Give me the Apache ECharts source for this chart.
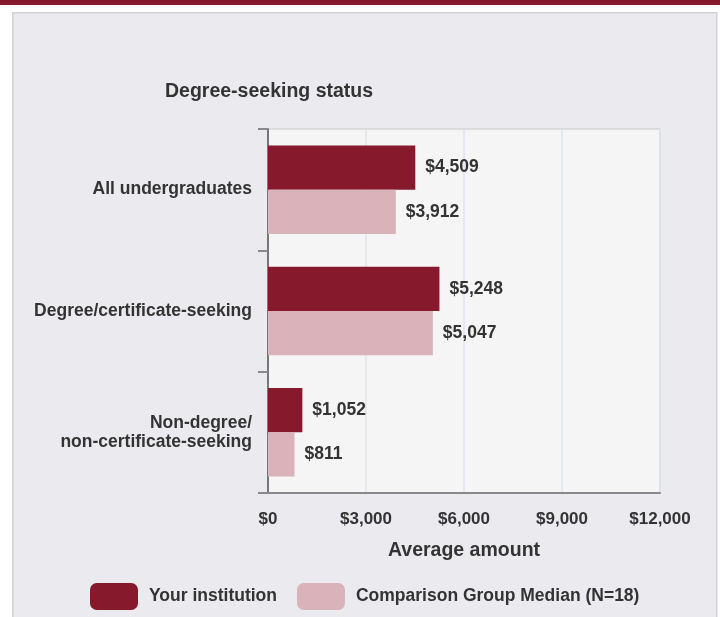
<!DOCTYPE html>
<html>
<head>
<meta charset="utf-8">
<script src="https://cdn.jsdelivr.net/npm/echarts@6/dist/echarts.min.js"></script>
<style>
  html, body { margin: 0; padding: 0; background: #fff; }
  #chart { width: 720px; height: 617px; }
</style>
</head>
<body>
<div id="chart"></div>
<script>
  // data
  const categories = ['All undergraduates', 'Degree/certificate-seeking', 'Non-degree/\nnon-certificate-seeking']
  const yourValues = [4509, 5248, 1052]
  const compValues = [3912, 5047, 811]
  const seriesNames = ['Your institution', 'Comparison Group Median (N=18)']
  const xTicks = [0, 3000, 6000, 9000, 12000]

  const font = '"Liberation Sans", Arial, Helvetica, sans-serif'
  const dark = '#861a2c'
  const light = '#d9b3b9'

  function money(v) {
    return '$' + Number(v).toLocaleString('en-US')
  }

  const myChart = echarts.init(document.getElementById('chart'))
  const option = {
    animation: false,
    textStyle: { fontFamily: font },
    graphic: [
      // top colour strip
      { type: 'rect', left: 0, top: 0, shape: { width: 720, height: 5 }, style: { fill: dark }, z: -10 },
      // grey panel
      { type: 'rect', left: 12, top: 12, shape: { width: 704, height: 620 },
        style: { fill: '#ebebef', stroke: '#d2d2d6', lineWidth: 1.5 }, z: -10 }
    ],
    title: {
      text: 'Degree-seeking status',
      left: 160,
      top: 77,
      textStyle: { fontSize: 19.5, fontWeight: 'bold', color: '#333', fontFamily: font }
    },
    legend: {
      left: 85,
      top: 578,
      itemWidth: 48,
      itemHeight: 27,
      itemGap: 20,
      icon: 'roundRect',
      data: seriesNames,
      textStyle: { fontSize: 17.5, fontWeight: 'bold', color: '#333', fontFamily: font, padding: [0, 0, 0, 6] }
    },
    grid: {
      left: 268,
      right: 60,
      top: 129,
      bottom: 124,
      show: true,
      backgroundColor: '#f5f5f5',
      borderColor: '#c8c8c8',
      borderWidth: 1
    },
    xAxis: {
      type: 'value',
      min: xTicks[0],
      max: xTicks[xTicks.length - 1],
      interval: 3000,
      name: 'Average amount',
      nameLocation: 'middle',
      nameGap: 48,
      nameTextStyle: { fontSize: 19.5, fontWeight: 'bold', color: '#333', fontFamily: font },
      axisLine: { show: true, lineStyle: { color: '#8a8a8a', width: 2 } },
      axisTick: { show: false },
      axisLabel: {
        margin: 18,
        fontSize: 17,
        fontWeight: 'bold',
        color: '#333',
        fontFamily: font,
        formatter: money
      },
      splitLine: { show: true, lineStyle: { color: '#dde3ef', width: 1.5 } }
    },
    yAxis: {
      type: 'category',
      inverse: true,
      data: categories,
      axisLine: { show: true, lineStyle: { color: '#777', width: 2 } },
      axisTick: { show: true, length: 10, lineStyle: { color: '#8a8a8a', width: 2 } },
      axisLabel: {
        margin: 16,
        fontSize: 17.5,
        fontWeight: 'bold',
        color: '#333',
        lineHeight: 19,
        fontFamily: font
      }
    },
    series: [
      {
        name: seriesNames[0],
        type: 'bar',
        data: yourValues,
        barGap: '0%',
        barCategoryGap: '27%',
        itemStyle: { color: dark },
        label: {
          show: true,
          position: 'right',
          distance: 10,
          fontSize: 17.5,
          fontWeight: 'bold',
          color: '#333',
          fontFamily: font,
          formatter: p => money(p.value)
        }
      },
      {
        name: seriesNames[1],
        type: 'bar',
        data: compValues,
        barGap: '0%',
        barCategoryGap: '27%',
        itemStyle: { color: light },
        label: {
          show: true,
          position: 'right',
          distance: 10,
          fontSize: 17.5,
          fontWeight: 'bold',
          color: '#333',
          fontFamily: font,
          formatter: p => money(p.value)
        }
      }
    ]
  }
  myChart.setOption(option)
</script>
</body>
</html>
